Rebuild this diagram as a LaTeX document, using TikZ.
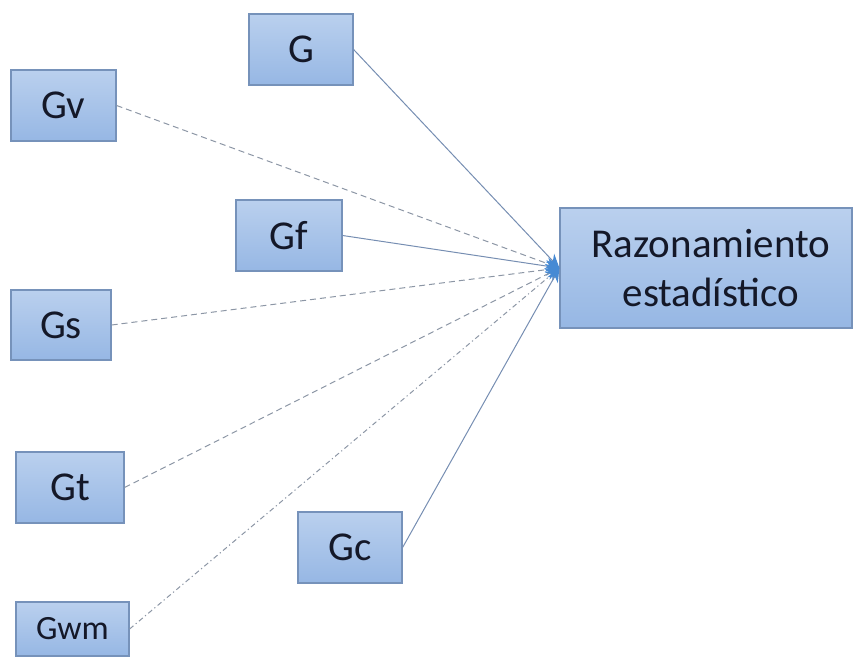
\documentclass[tikz,border=0pt]{standalone}
\usepackage{fontspec}
\setmainfont{Carlito}
\usetikzlibrary{arrows.meta}
\definecolor{boxtop}{RGB}{186,208,238}
\definecolor{boxbot}{RGB}{150,183,228}
\definecolor{boxline}{RGB}{118,146,186}
\definecolor{txt}{RGB}{20,24,40}
\definecolor{conn}{RGB}{118,142,178}
\definecolor{dconn}{RGB}{140,150,165}
\definecolor{tipc}{RGB}{70,138,212}
\begin{document}
\begin{tikzpicture}[x=1pt,y=-1pt,
  gbox/.style={draw=boxline,line width=1.2pt,top color=boxtop,bottom color=boxbot,
     text=txt,inner sep=0pt,font=\fontsize{41}{50}\selectfont},
  solidconn/.style={draw=conn,line width=1pt,-{Stealth[length=14pt,width=12pt,fill=tipc,color=tipc]}},
  dashconn/.style={draw=dconn,line width=1pt,dash pattern=on 6pt off 4pt,-{Stealth[length=14pt,width=12pt,fill=tipc,color=tipc]}},
  dotconn/.style={draw=dconn,line width=1pt,dash pattern=on 5pt off 3pt on 1.2pt off 3pt,-{Stealth[length=14pt,width=12pt,fill=tipc,color=tipc]}}
]
\useasboundingbox (0,0) rectangle (854,658);
\node[gbox,minimum width=104pt,minimum height=71pt] (G) at (301,49.5) {G};
\node[gbox,minimum width=105pt,minimum height=71pt] (Gv) at (63.5,105.5) {Gv};
\node[gbox,minimum width=106pt,minimum height=71pt] (Gf) at (289,235.5) {Gf};
\node[gbox,minimum width=100pt,minimum height=70pt] (Gs) at (61,325) {Gs};
\node[gbox,minimum width=108pt,minimum height=71pt] (Gt) at (70,487.5) {Gt};
\node[gbox,minimum width=113pt,minimum height=54pt,font=\fontsize{34}{40}\selectfont] (Gwm) at (72.5,629) {Gwm};
\node[gbox,minimum width=104pt,minimum height=71pt] (Gc) at (350,547.5) {Gc};
\node[gbox,minimum width=292pt,minimum height=120pt,align=center,
  font=\fontsize{41}{49}\selectfont] (R) at (706,268) {\hspace*{10pt}Razonamiento\\\hspace*{10pt}estadístico};
\draw[solidconn] (G.east) -- (R.west);
\draw[dashconn] (Gv.east) -- (R.west);
\draw[solidconn] (Gf.east) -- (R.west);
\draw[dashconn] (Gs.east) -- (R.west);
\draw[dashconn] (Gt.east) -- (R.west);
\draw[dotconn] (Gwm.east) -- (R.west);
\draw[solidconn] (Gc.east) -- (R.west);
\end{tikzpicture}
\end{document}
